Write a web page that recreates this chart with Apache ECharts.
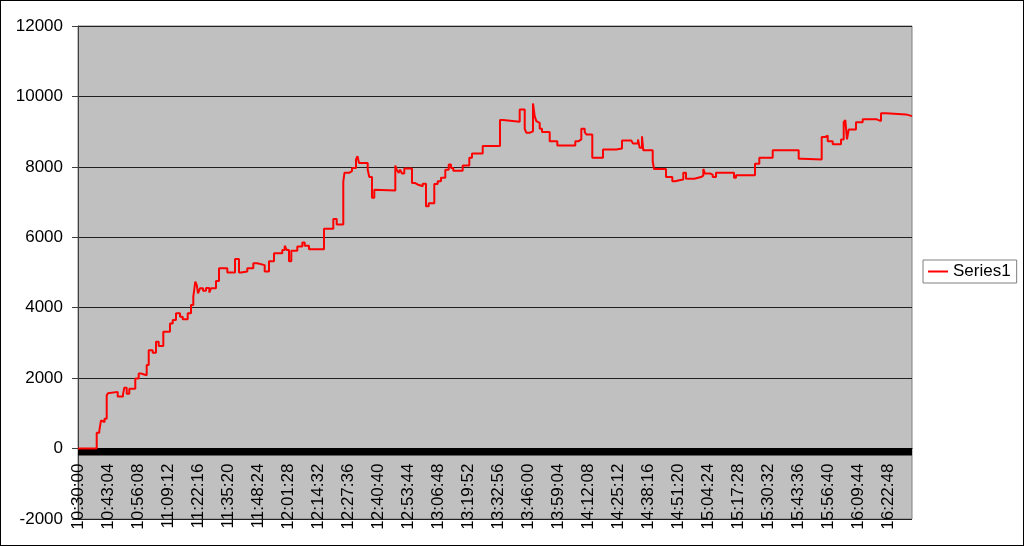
<!DOCTYPE html>
<html>
<head>
<meta charset="utf-8">
<script src="https://cdn.jsdelivr.net/npm/echarts@6/dist/echarts.min.js"></script>
<style>
  html, body { margin: 0; padding: 0; background: #fff; }
  #wrap { position: relative; width: 1024px; height: 546px; }
  #chart { width: 1024px; height: 546px; }
  #frame { position: absolute; left: 0; top: 0; width: 1022px; height: 544px; border: 1px solid #000; pointer-events: none; }
</style>
</head>
<body>
<div id="wrap"><div id="chart"></div><div id="frame"></div></div>
<script>
// Clock time at which the value changes (step series)
const changeTimes = [
  '10:30:00','10:38:09','10:39:17','10:40:01','10:40:53','10:41:33','10:42:30','10:43:04','10:43:38','10:47:17',
  '10:49:36','10:50:10','10:51:13','10:52:21','10:54:57','10:56:26','10:57:26','10:59:55','11:00:48','11:02:32',
  '11:03:58','11:05:09','11:07:09','11:08:46','11:09:38','11:10:04','11:11:15','11:12:41','11:14:26','11:15:36',
  '11:17:47','11:19:13','11:20:13','11:21:05','11:21:42','11:22:16','11:23:08','11:24:27','11:25:45','11:27:11',
  '11:27:56','11:30:06','11:31:25','11:35:02','11:38:23','11:40:07','11:41:00','11:43:44','11:46:21','11:48:06',
  '11:51:19','11:53:11','11:55:22','11:58:59','12:00:02','12:00:54','12:01:54','12:02:54','12:05:31','12:07:42',
  '12:08:44','12:10:37','12:17:09','12:21:12','12:22:41','12:25:33','12:26:04','12:28:02','12:29:20','12:31:05',
  '12:31:44','12:32:23','12:36:11','12:36:53','12:38:03','12:39:03','12:39:48','12:48:12','12:48:49','12:49:41',
  '12:50:15','12:51:07','12:52:07','12:55:28','12:56:55','12:57:52','12:58:39','13:00:08','13:01:34','13:02:45',
  '13:05:11','13:06:40','13:08:06','13:09:59','13:11:28','13:12:28','13:13:28','13:17:33','13:20:26','13:21:36',
  '13:26:16','13:33:48','13:35:07','13:42:23','13:44:34','13:45:15','13:46:52','13:48:10','13:48:55','13:49:37',
  '13:50:21','13:51:06','13:52:06','13:55:27','13:58:46','14:06:36','14:08:05','14:09:13','14:10:42','14:11:24',
  '14:14:00','14:18:40','14:24:28','14:26:56','14:31:00','14:31:44','14:33:54','14:34:39','14:35:39','14:36:13',
  '14:40:19','14:40:53','14:46:06','14:48:51','14:50:01','14:51:54','14:53:38','14:54:49','14:58:26','15:01:21',
  '15:02:21','15:03:05','15:05:16','15:06:27','15:07:53','15:15:43','15:16:36','15:24:52','15:26:45','15:32:35',
  '15:43:54','15:45:20','15:45:54','15:53:55','15:55:29','15:56:32','15:58:43','16:02:20','16:03:30','16:04:12',
  '16:04:56','16:05:41','16:08:51','16:11:47','16:17:53','16:19:45','16:21:55','16:30:38','16:33:15'
];
const series1 = [
  0,450,510,800,750,850,1510,1570,1610,1480,
  1540,1730,1560,1700,1990,2130,2080,2370,2790,2720,
  3030,2910,3320,3270,3320,3550,3650,3840,3740,3670,
  3840,4080,4310,4740,4650,4410,4550,4480,4560,4430,
  4550,4760,5120,5000,5380,5000,5030,5120,5260,5210,
  5030,5320,5550,5640,5760,5640,5320,5620,5740,5850,
  5760,5660,6240,6520,6360,7590,7830,7880,7970,8210,
  8300,8110,7920,7710,7120,7350,7330,8040,7920,7830,
  7920,7810,7950,7540,7500,7520,7450,7520,6880,6970,
  7510,7590,7690,7920,8070,7970,7890,8040,8260,8380,
  8590,9330,9280,9630,9080,8970,9010,9800,9440,9300,
  9250,9080,8990,8730,8610,8730,8780,9080,8990,8920,
  8260,8490,8520,8750,8710,8660,8780,8540,8870,8470,
  8160,7940,7710,7590,7620,7640,7830,7660,7710,7750,
  7940,7810,7780,7710,7830,7690,7760,8090,8260,8470,
  8230,8260,8210,8850,8890,8730,8640,8780,9270,9330,
  8780,9060,9270,9350,9300,9520,9490,9440,9440
];
const tickLabels = [
  '10:30:00','10:43:04','10:56:08','11:09:12','11:22:16','11:35:20','11:48:24','12:01:28','12:14:32','12:27:36',
  '12:40:40','12:53:44','13:06:48','13:19:52','13:32:56','13:46:00','13:59:04','14:12:08','14:25:12','14:38:16',
  '14:51:20','15:04:24','15:17:28','15:30:32','15:43:36','15:56:40','16:09:44','16:22:48'
];
const yTicks = [-2000, 0, 2000, 4000, 6000, 8000, 10000, 12000];

function toSec(s) { const p = s.split(':').map(Number); return p[0] * 3600 + p[1] * 60 + p[2]; }
const t0 = toSec(tickLabels[0]);
const tickStep = toSec(tickLabels[1]) - t0;
const points = changeTimes.map((t, i) => [toSec(t) - t0, series1[i]]);
const xMax = toSec(changeTimes[changeTimes.length - 1]) - t0;

// layout
const W = 1024, H = 546;
const G = { left: 78, right: 112, top: 26, bottom: 27 };
const yMin = yTicks[0], yMax = yTicks[yTicks.length - 1];
const gridH = H - G.top - G.bottom;
const zeroOffset = -gridH * (0 - yMin) / (yMax - yMin); // move x axis up to the zero line

const FONT = 'Liberation Sans, Arial, sans-serif';
const chart = echarts.init(document.getElementById('chart'), null, { renderer: 'canvas' });
chart.setOption({
  animation: false,
  backgroundColor: '#ffffff',
  grid: {
    left: G.left, right: G.right, top: G.top, bottom: G.bottom,
    containLabel: false, outerBoundsMode: 'none',
    show: true, backgroundColor: '#C0C0C0', borderColor: '#808080', borderWidth: 1
  },
  legend: {
    left: 923, top: 260, orient: 'vertical',
    backgroundColor: '#ffffff', borderColor: '#808080', borderWidth: 1,
    padding: [3, 6, 3, 5],
    itemWidth: 20, itemHeight: 2, icon: 'rect',
    textStyle: { fontFamily: FONT, fontSize: 17, color: '#000' },
    data: ['Series1']
  },
  xAxis: {
    type: 'value', min: 0, max: xMax, interval: tickStep,
    position: 'bottom', offset: zeroOffset,
    axisLine: { show: true, onZero: false, lineStyle: { color: '#000', width: 1 } },
    axisTick: { show: false },
    splitLine: { show: false },
    axisLabel: {
      rotate: 90, margin: 15, showMaxLabel: false, hideOverlap: false,
      fontFamily: FONT, fontSize: 17, color: '#000',
      formatter: v => tickLabels[Math.round(v / tickStep)] || ''
    }
  },
  yAxis: {
    type: 'value', min: yMin, max: yMax, interval: yTicks[1] - yTicks[0],
    axisLine: { show: true, onZero: false, lineStyle: { color: '#404040', width: 1 } },
    axisTick: { show: true, length: 6, lineStyle: { color: '#404040' } },
    splitLine: { show: true, lineStyle: { color: '#202020', width: 1 } },
    axisLabel: { margin: 15, fontFamily: FONT, fontSize: 17, color: '#000', formatter: v => String(v) }
  },
  series: [{
    name: 'Series1', type: 'line', step: 'end',
    data: points, showSymbol: false, symbol: 'none',
    lineStyle: { color: '#FF0000', width: 2 },
    itemStyle: { color: '#FF0000' },
    markArea: {
      silent: true, z: 1,
      itemStyle: { color: '#000000' },
      data: [[{ yAxis: -200 }, { yAxis: 0 }]]
    }
  }]
});
</script>
</body>
</html>
